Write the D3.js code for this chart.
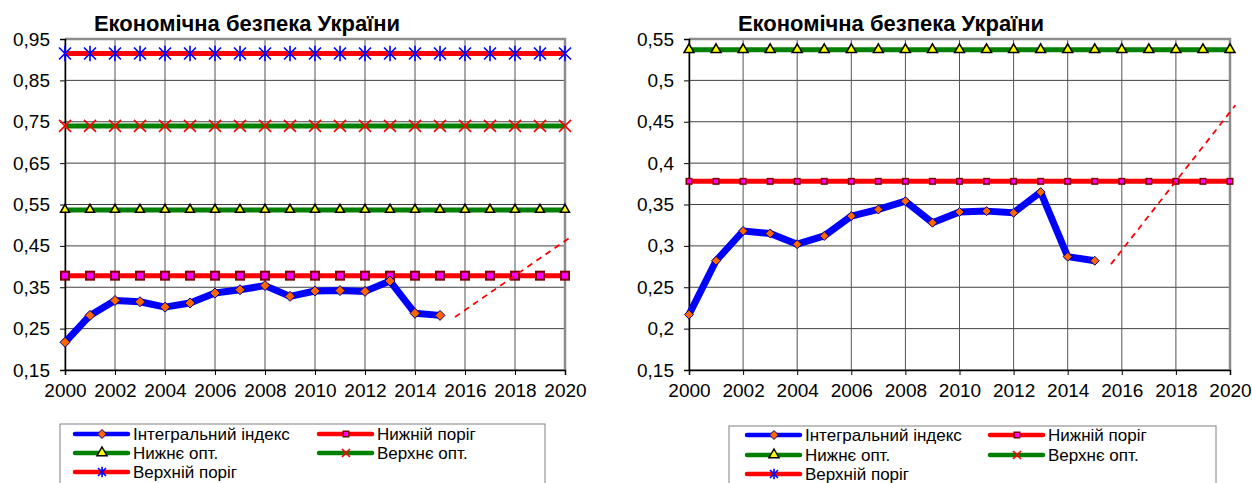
<!DOCTYPE html>
<html>
<head>
<meta charset="utf-8">
<script src="https://cdn.jsdelivr.net/npm/d3@7"></script>
<style>
  body { margin: 0; background: #fff; }
  svg { font-family: Arial, "Liberation Sans", sans-serif; }
</style>
</head>
<body>
<div id="chart"></div>
<script>
// ---- data ----
const years = d3.range(2000, 2021);
const indexYears = d3.range(2000, 2016);
const integralIndex = [0.217, 0.282, 0.318, 0.315, 0.302, 0.312, 0.336, 0.344, 0.354, 0.328, 0.341, 0.342, 0.340, 0.365, 0.287, 0.282];
const lowerThreshold = 0.378;
const lowerOpt = 0.537;
const upperOpt = 0.74;
const upperThreshold = 0.915;
const trendYears = [2015.6, 2020.2];
const trendValues = [0.278, 0.47];

const xTicks = d3.range(2000, 2021, 2);
const leftYTicks = [0.15, 0.25, 0.35, 0.45, 0.55, 0.65, 0.75, 0.85, 0.95];
const leftYLabels = ['0,15', '0,25', '0,35', '0,45', '0,55', '0,65', '0,75', '0,85', '0,95'];
const rightYTicks = [0.15, 0.2, 0.25, 0.3, 0.35, 0.4, 0.45, 0.5, 0.55];
const rightYLabels = ['0,15', '0,2', '0,25', '0,3', '0,35', '0,4', '0,45', '0,5', '0,55'];

const title = 'Економічна безпека України';
const legendNames = ['Інтегральний індекс', 'Нижній поріг', 'Нижнє опт.', 'Верхнє опт.', 'Верхній поріг'];

const svg = d3.select('#chart').append('svg')
  .attr('width', 1252)
  .attr('height', 483);

// marker shapes
function xPath(s) {
  return `M${-s},${-s}L${s},${s}M${-s},${s}L${s},${-s}`;
}
function starPath(s) {
  return `M${-s},${-s}L${s},${s}M${-s},${s}L${s},${-s}M0,${-s * 1.3}L0,${s * 1.3}`;
}
function diamondPath(s) {
  return `M0,${-s}L${s},0L0,${s}L${-s},0Z`;
}
function trianglePath(s) {
  return `M0,${-s}L${s},${s * 0.75}L${-s},${s * 0.75}Z`;
}

function drawMarker(g, kind, x, y, big) {
  if (kind === 'diamond') {
    g.append('path').attr('transform', `translate(${x},${y})`)
      .attr('d', diamondPath(big ? 5 : 4.5))
      .attr('fill', '#ff6600').attr('stroke', '#000080').attr('stroke-width', 1);
  } else if (kind === 'square') {
    const s = big ? 8 : 5.5;
    g.append('rect').attr('x', x - s / 2).attr('y', y - s / 2).attr('width', s).attr('height', s)
      .attr('fill', '#ff00ff').attr('stroke', '#800000').attr('stroke-width', big ? 2 : 1.5);
  } else if (kind === 'triangle') {
    g.append('path').attr('transform', `translate(${x},${y - 1})`)
      .attr('d', trianglePath(big ? 4.5 : 5))
      .attr('fill', '#ffff00').attr('stroke', '#000').attr('stroke-width', 1.5);
  } else if (kind === 'x') {
    g.append('path').attr('transform', `translate(${x},${y})`)
      .attr('d', xPath(big ? 6 : 4)).attr('stroke', '#ff0000').attr('stroke-width', 1.6).attr('fill', 'none');
  } else if (kind === 'star') {
    g.append('path').attr('transform', `translate(${x},${y})`)
      .attr('d', starPath(big ? 6 : 4)).attr('stroke', '#0000ff').attr('stroke-width', 1.6).attr('fill', 'none');
  }
}

function drawChart(cfg) {
  const g = svg.append('g');
  const x = d3.scaleLinear().domain([2000, 2020]).range([cfg.left, cfg.right]);
  const y = d3.scaleLinear().domain([0.15, cfg.yMax]).range([cfg.bottom, cfg.top]);

  // grid
  g.append('g').selectAll('line').data(cfg.yTicks).join('line')
    .attr('x1', cfg.left).attr('x2', cfg.right)
    .attr('y1', d => y(d)).attr('y2', d => y(d))
    .attr('stroke', '#404040').attr('stroke-width', 1);
  g.append('g').selectAll('line').data(xTicks).join('line')
    .attr('x1', d => x(d)).attr('x2', d => x(d))
    .attr('y1', cfg.top).attr('y2', cfg.bottom)
    .attr('stroke', '#555').attr('stroke-width', 1);

  // border top / right
  g.append('path')
    .attr('d', `M${cfg.left},${cfg.top}H${cfg.right}V${cfg.bottom}`)
    .attr('fill', 'none').attr('stroke', '#8c8c8c').attr('stroke-width', 2.5);

  // axes
  const yAxis = d3.axisLeft(y).tickValues(cfg.yTicks).tickSize(5).tickPadding(10)
    .tickFormat((d, i) => cfg.yLabels[i]);
  const xAxis = d3.axisBottom(x).tickValues(xTicks).tickSize(5).tickPadding(9)
    .tickFormat(d3.format('d'));
  const yAxisG = g.append('g').attr('transform', `translate(${cfg.left},0)`).call(yAxis);
  const xAxisG = g.append('g').attr('transform', `translate(0,${cfg.bottom})`).call(xAxis);
  [yAxisG, xAxisG].forEach(a => {
    a.attr('font-size', null).attr('font-family', null);
    a.select('.domain').attr('stroke', '#000').attr('stroke-width', 1.5);
    a.selectAll('.tick line').attr('stroke', '#000');
    a.selectAll('text').attr('fill', '#000').style('font-size', '19px');
  });

  const visible = v => v >= 0.15 && v <= cfg.yMax;

  const levels = [
    { v: upperThreshold, color: '#ff0000', marker: 'star' },
    { v: upperOpt, color: '#008000', marker: 'x' },
    { v: lowerOpt, color: '#008000', marker: 'triangle' },
    { v: lowerThreshold, color: '#ff0000', marker: 'square' }
  ];
  const lv = g.append('g');
  levels.filter(l => visible(l.v)).forEach(l => {
    lv.append('line')
      .attr('x1', x(2000)).attr('x2', x(2020))
      .attr('y1', y(l.v)).attr('y2', y(l.v))
      .attr('stroke', l.color).attr('stroke-width', 5);
  });
  levels.filter(l => visible(l.v)).forEach(l => {
    years.forEach(yr => drawMarker(lv, l.marker, x(yr), y(l.v), cfg.big));
  });

  // trend
  g.append('path')
    .datum(trendYears.map((t, i) => [t, trendValues[i]]))
    .attr('d', d3.line().x(d => x(d[0])).y(d => y(d[1])))
    .attr('fill', 'none').attr('stroke', '#ff0000').attr('stroke-width', 1.8)
    .attr('stroke-dasharray', '6,5');

  // integral index
  const pts = indexYears.map((yr, i) => [yr, integralIndex[i]]);
  g.append('path').datum(pts)
    .attr('d', d3.line().x(d => x(d[0])).y(d => y(d[1])))
    .attr('fill', 'none').attr('stroke', '#0000ff').attr('stroke-width', 7)
    .attr('stroke-linejoin', 'round');
  pts.forEach(d => drawMarker(g, 'diamond', x(d[0]), y(d[1]), cfg.big));

  // title
  g.append('text').attr('x', cfg.titleX).attr('y', 31)
    .attr('text-anchor', 'middle')
    .style('font-size', '22px').style('font-weight', 'bold')
    .text(title);

  // legend
  const L = cfg.legend;
  g.append('rect').attr('x', L.x).attr('y', L.y).attr('width', L.w).attr('height', 80)
    .attr('fill', '#fff').attr('stroke', '#808080').attr('stroke-width', 1);
  const items = [
    { name: legendNames[0], color: '#0000ff', marker: 'diamond', col: 0, row: 0 },
    { name: legendNames[1], color: '#ff0000', marker: 'square', col: 1, row: 0 },
    { name: legendNames[2], color: '#008000', marker: 'triangle', col: 0, row: 1 },
    { name: legendNames[3], color: '#008000', marker: 'x', col: 1, row: 1 },
    { name: legendNames[4], color: '#ff0000', marker: 'star', col: 0, row: 2 }
  ];
  items.forEach(it => {
    const lx = L.cols[it.col];
    const ly = L.rows[it.row];
    g.append('line').attr('x1', lx).attr('x2', lx + 53).attr('y1', ly).attr('y2', ly)
      .attr('stroke', it.color).attr('stroke-width', 4.5).attr('stroke-linecap', 'round');
    drawMarker(g, it.marker, lx + 27, ly, false);
    g.append('text').attr('x', lx + 58).attr('y', ly + 5.5)
      .style('font-size', '17px').text(it.name);
  });
}

drawChart({
  left: 65, right: 565, top: 39, bottom: 370, yMax: 0.95,
  yTicks: leftYTicks, yLabels: leftYLabels, big: true, titleX: 247,
  legend: { x: 60, y: 424, w: 485, cols: [75, 319], rows: [434, 453, 472] }
});

drawChart({
  left: 689, right: 1230, top: 39, bottom: 370, yMax: 0.55,
  yTicks: rightYTicks, yLabels: rightYLabels, big: false, titleX: 891,
  legend: { x: 729, y: 426, w: 487, cols: [747, 990], rows: [435, 455, 474] }
});
</script>
</body>
</html>
